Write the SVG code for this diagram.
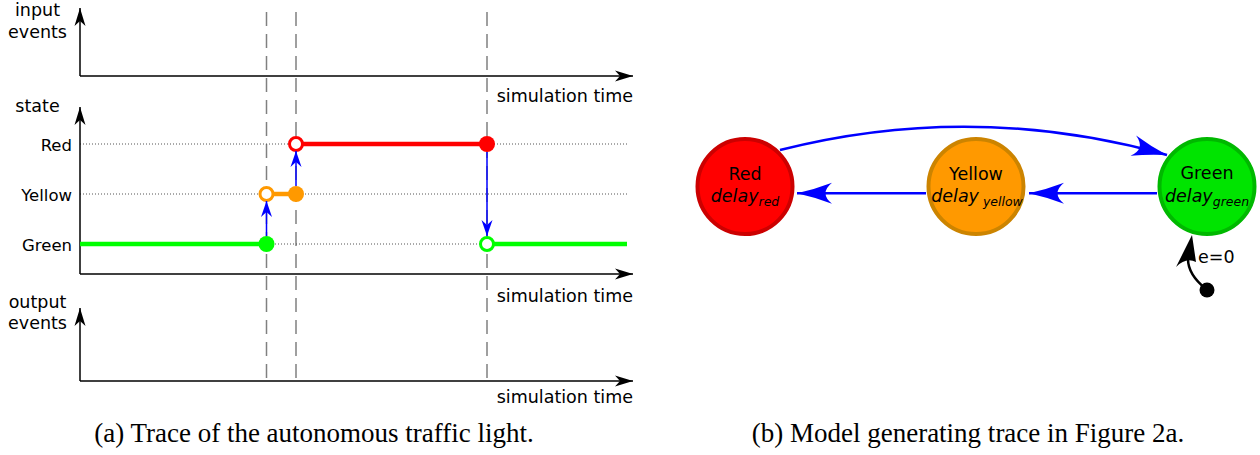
<svg xmlns="http://www.w3.org/2000/svg" width="1260" height="455" viewBox="0 0 1260 455">
<style>
.lbl{font-family:"DejaVu Sans",sans-serif;font-size:17.5px;fill:#000}
.st{font-family:"DejaVu Sans",sans-serif;font-size:16.5px;fill:#000;text-anchor:end}
.cap{font-family:"Liberation Serif",serif;font-size:27px;fill:#000;text-anchor:middle}
.axis{stroke:#000;stroke-width:1.5;fill:none}
.dash{stroke:#808080;stroke-width:1.5;stroke-dasharray:14 8;fill:none}
.dot{stroke:#555;stroke-width:1;stroke-dasharray:1 2;fill:none}
.sb{stroke:#0000ff;stroke-width:1.5;fill:none}
.bb{stroke:#0000ff;stroke-width:2.5;fill:none}
.nt{font-family:"DejaVu Sans",sans-serif;font-size:17.5px;fill:#000;text-anchor:middle}
</style>
<defs>
<marker id="ax" markerUnits="userSpaceOnUse" viewBox="-20 -7 22 14" refX="0" refY="0" markerWidth="22" markerHeight="14" orient="auto">
<path d="M0,0 L-18,-5.5 L-13,0 L-18,5.5 Z" fill="#000"/>
</marker>
<marker id="sa" markerUnits="userSpaceOnUse" viewBox="-18 -7 20 14" refX="0" refY="0" markerWidth="20" markerHeight="14" orient="auto">
<path d="M0,0 L-16,-5.5 L-11,0 L-16,5.5 Z" fill="#0000ff"/>
</marker>
<marker id="ba" markerUnits="userSpaceOnUse" viewBox="-38 -13 40 26" refX="0" refY="0" markerWidth="40" markerHeight="26" orient="auto">
<path d="M0,0 Q-18,-4 -35,-10.5 Q-22,0 -35,10.5 Q-18,4 0,0 Z" fill="#0000ff"/>
</marker>
</defs>
<rect width="1260" height="455" fill="#fff"/>

<g id="trace">
<line class="dash" x1="266.5" y1="12" x2="266.5" y2="380"/>
<line class="dash" x1="296" y1="12" x2="296" y2="380"/>
<line class="dash" x1="487" y1="12" x2="487" y2="380"/>
<line class="dot" x1="80" y1="144" x2="628" y2="144"/>
<line class="dot" x1="80" y1="194" x2="628" y2="194"/>
<line class="dot" x1="80" y1="244" x2="628" y2="244"/>

<line class="axis" x1="80" y1="76" x2="80" y2="8" marker-end="url(#ax)"/>
<line class="axis" x1="80" y1="76" x2="633" y2="76" marker-end="url(#ax)"/>
<line class="axis" x1="80" y1="274" x2="80" y2="107" marker-end="url(#ax)"/>
<line class="axis" x1="80" y1="274" x2="633" y2="274" marker-end="url(#ax)"/>
<line class="axis" x1="80" y1="381" x2="80" y2="308" marker-end="url(#ax)"/>
<line class="axis" x1="80" y1="381" x2="633" y2="381" marker-end="url(#ax)"/>

<text class="lbl" x="37.5" y="16" text-anchor="middle">input</text>
<text class="lbl" x="37.5" y="38" text-anchor="middle">events</text>
<text class="lbl" x="37.5" y="112" text-anchor="middle">state</text>
<text class="lbl" x="37.5" y="308" text-anchor="middle">output</text>
<text class="lbl" x="37.5" y="329" text-anchor="middle">events</text>
<text class="st" x="72" y="150.5">Red</text>
<text class="st" x="72" y="200.5">Yellow</text>
<text class="st" x="72" y="250.5">Green</text>
<text class="lbl" x="633" y="102" text-anchor="end">simulation time</text>
<text class="lbl" x="633" y="302" text-anchor="end">simulation time</text>
<text class="lbl" x="633" y="403" text-anchor="end">simulation time</text>

<line x1="80" y1="244" x2="266.5" y2="244" stroke="#00ff00" stroke-width="4.5"/>
<line x1="487" y1="244" x2="627" y2="244" stroke="#00ff00" stroke-width="4.5"/>
<line x1="266.5" y1="194" x2="296" y2="194" stroke="#ff9900" stroke-width="4.5"/>
<line x1="296" y1="144" x2="487" y2="144" stroke="#ff0000" stroke-width="4.5"/>

<circle cx="266.5" cy="244" r="8" fill="#00ff00"/>
<circle cx="266.5" cy="194" r="6.5" fill="#fff" stroke="#ff9900" stroke-width="3"/>
<circle cx="296" cy="194" r="8" fill="#ff9900"/>
<circle cx="296" cy="144" r="6.5" fill="#fff" stroke="#ff0000" stroke-width="3"/>
<circle cx="487" cy="144" r="8" fill="#ff0000"/>
<circle cx="487" cy="244" r="6.5" fill="#fff" stroke="#00ff00" stroke-width="3"/>

<line class="sb" x1="266.5" y1="236" x2="266.5" y2="201" marker-end="url(#sa)"/>
<line class="sb" x1="296" y1="186" x2="296" y2="151" marker-end="url(#sa)"/>
<line class="sb" x1="487" y1="152" x2="487" y2="236" marker-end="url(#sa)"/>

<text class="cap" x="314" y="442">(a) Trace of the autonomous traffic light.</text>
</g>

<g id="connectors">
<line class="bb" x1="1157" y1="193.3" x2="1029" y2="193.3" marker-end="url(#ba)"/>
<line class="bb" x1="926" y1="193.3" x2="797" y2="193.3" marker-end="url(#ba)"/>
<path class="bb" d="M780,150 Q973,101 1167,155" marker-end="url(#ba)"/>
<path d="M1206,289 C1196,281 1188,272 1188,259" stroke="#000" stroke-width="2.5" fill="none"/>
<path d="M1192,235 L1176,267 Q1186,257 1196,262 Z" fill="#000"/>
<text class="lbl" x="1198" y="263">e=0</text>
</g>

<g id="node-red">
<circle cx="745" cy="186.5" r="47.5" fill="#ff0000" stroke="#cc0000" stroke-width="4"/>
<text class="nt" x="745" y="180">Red</text>
<text class="nt" x="745" y="202"><tspan font-style="italic">delay</tspan><tspan font-size="12.5" font-style="italic" dy="4">red</tspan></text>
</g>
<g id="node-yellow">
<circle cx="976" cy="186.5" r="47.5" fill="#ff9900" stroke="#cc8400" stroke-width="4"/>
<text class="nt" x="976" y="179.5">Yellow</text>
<text class="nt" x="977" y="202"><tspan font-style="italic">delay</tspan><tspan font-size="12.5" font-style="italic" dy="4"> yellow</tspan></text>
</g>
<g id="node-green">
<circle cx="1207" cy="186.5" r="47.5" fill="#00e400" stroke="#00b800" stroke-width="4"/>
<text class="nt" x="1207" y="178.5">Green</text>
<text class="nt" x="1207" y="202"><tspan font-style="italic">delay</tspan><tspan font-size="12.5" font-style="italic" dy="4">green</tspan></text>
</g>
<g id="init">
<circle cx="1207" cy="290" r="7.5" fill="#000"/>
</g>
<text class="cap" x="968" y="442">(b) Model generating trace in Figure 2a.</text>
</svg>
